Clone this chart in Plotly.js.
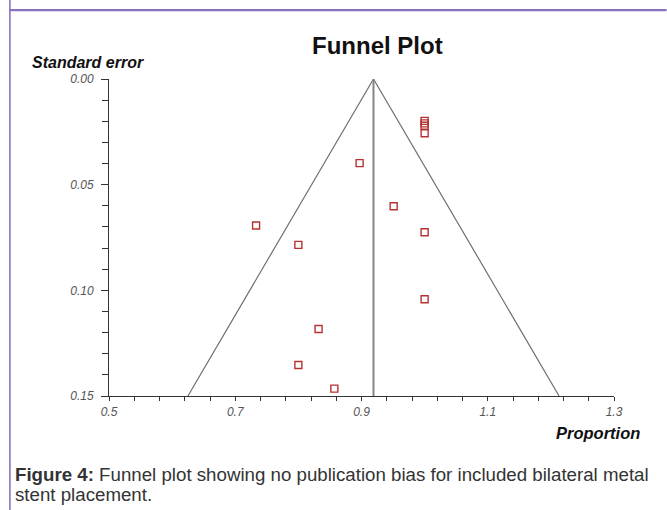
<!DOCTYPE html>
<html>
<head>
<meta charset="utf-8">
<script src="https://cdn.plot.ly/plotly-3.0.1.min.js"></script>
<style>
html,body{margin:0;padding:0;background:#fff;}
#chart{width:667px;height:510px;}
</style>
</head>
<body>
<div id="chart"></div>
<script>
// Study points: proportion vs standard error
var proportion = [1.0, 1.0, 1.0, 1.0, 0.897, 0.951, 0.733, 1.0, 0.800, 1.0, 0.832, 0.800, 0.857];
var stdError   = [0.0198, 0.0210, 0.0221, 0.0257, 0.0398, 0.0602, 0.0693, 0.0725, 0.0785, 0.1042, 0.1183, 0.1353, 0.1465];

// Funnel (pseudo 95% limits) and pooled estimate
var funnelX = [0.625, 0.919, 1.213];
var funnelY = [0.15, 0.0, 0.15];
var pooledX = [0.919, 0.919];
var pooledY = [0.0, 0.15];

var xTickVals = [0.5, 0.7, 0.9, 1.1, 1.3];
var yTickVals = [0.00, 0.05, 0.10, 0.15];

var L = 108.7, R = 614.3, T = 79, B = 395.7;
var W = R - L, H = B - T;
function px(x){ return (x - L) / W; }
function py(y){ return (B - y) / H; }

var traces = [
  {x: funnelX, y: funnelY, mode: 'lines', line: {color: '#707070', width: 1.2}, hoverinfo: 'skip'},
  {x: pooledX, y: pooledY, mode: 'lines', line: {color: '#858585', width: 2}, hoverinfo: 'skip'},
  {x: proportion, y: stdError, mode: 'markers',
   marker: {symbol: 'square-open', size: 7, color: '#b53232', line: {width: 1.4}}, hoverinfo: 'skip'}
];

var tickFont = {family: 'Liberation Sans, Arial, sans-serif', size: 12, color: '#555', style: 'italic'};
var fam = 'Liberation Sans, Arial, sans-serif';

var layout = {
  width: 667, height: 510,
  margin: {l: L, r: 667 - R, t: T, b: 510 - B, pad: 0},
  paper_bgcolor: '#fff', plot_bgcolor: '#fff',
  showlegend: false,
  hovermode: false,
  xaxis: {
    range: [0.5, 1.3], showgrid: false, zeroline: false,
    showline: true, linecolor: '#333', linewidth: 1,
    tickvals: xTickVals, tickformat: '.1f',
    ticks: 'outside', ticklen: 4, tickcolor: '#333', tickwidth: 1,
    ticklabelstandoff: 1,
    minor: {tick0: 0.5, dtick: 0.04, ticks: 'outside', ticklen: 4, tickcolor: '#333', tickwidth: 1},
    tickfont: tickFont, fixedrange: true
  },
  yaxis: {
    range: [0.15, 0], showgrid: false, zeroline: false,
    showline: true, linecolor: '#333', linewidth: 1,
    tickvals: yTickVals, tickformat: '.2f',
    ticks: 'outside', ticklen: 7, tickcolor: '#333', tickwidth: 1,
    ticklabelstandoff: 5,
    minor: {tick0: 0, dtick: 0.01, ticks: 'outside', ticklen: 6, tickcolor: '#333', tickwidth: 1},
    tickfont: tickFont, fixedrange: true
  },
  shapes: [
    {type: 'line', xref: 'paper', yref: 'paper', x0: px(9.5), x1: px(9.5), y0: py(0), y1: py(510),
     line: {color: '#8a72c2', width: 1.6}},
    {type: 'line', xref: 'paper', yref: 'paper', x0: px(9), x1: px(667), y0: py(10.2), y1: py(10.2),
     line: {color: '#8a72c2', width: 2.2}}
  ],
  annotations: [
    {text: '<b>Funnel Plot</b>', xref: 'paper', yref: 'paper', x: px(378), y: py(46),
     xanchor: 'center', yanchor: 'middle', showarrow: false,
     font: {family: fam, size: 24, color: '#111'}},
    {text: '<b><i>Standard error</i></b>', xref: 'paper', yref: 'paper', x: px(31), y: py(63),
     xanchor: 'left', yanchor: 'middle', showarrow: false, borderpad: 0,
     font: {family: fam, size: 16, color: '#111'}},
    {text: '<b><i>Proportion</i></b>', xref: 'paper', yref: 'paper', x: px(642), y: py(433),
     xanchor: 'right', yanchor: 'middle', showarrow: false,
     font: {family: fam, size: 16.5, color: '#111'}},
    {text: '<b>Figure 4:</b> Funnel plot showing no publication bias for included bilateral metal',
     xref: 'paper', yref: 'paper', x: px(13), y: py(474), align: 'left',
     xanchor: 'left', yanchor: 'middle', showarrow: false,
     font: {family: fam, size: 18.7, color: '#333'}},
    {text: 'stent placement.',
     xref: 'paper', yref: 'paper', x: px(13), y: py(494), align: 'left',
     xanchor: 'left', yanchor: 'middle', showarrow: false,
     font: {family: fam, size: 18.7, color: '#333'}}
  ]
};

Plotly.newPlot('chart', traces, layout, {staticPlot: true, displayModeBar: false});
</script>
</body>
</html>
